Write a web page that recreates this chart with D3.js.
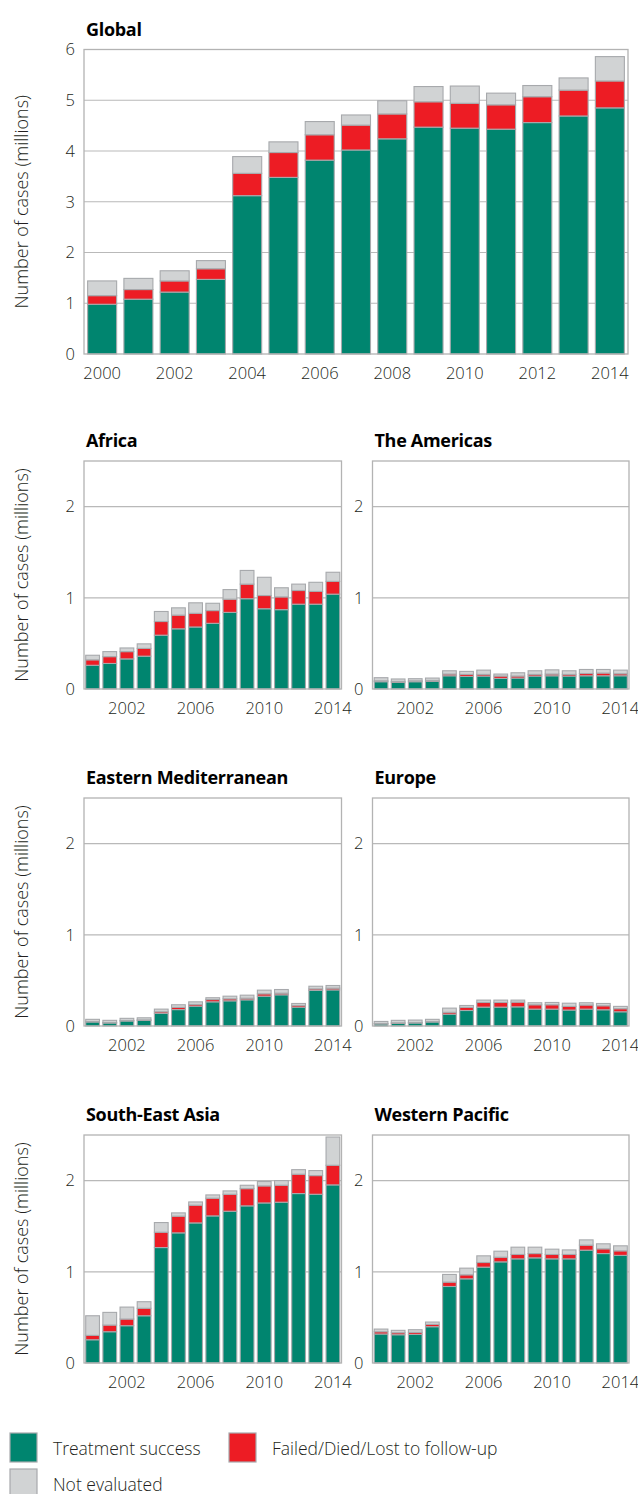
<!DOCTYPE html>
<html><head><meta charset="utf-8">
<script src="https://cdn.jsdelivr.net/npm/d3@7"></script>
<style>
body{margin:0;background:#fff;}
svg{display:block;font-family:"Open Sans",sans-serif;}
</style></head>
<body><svg id="chart" width="638" height="1494"></svg>
<script>
const years = [2000,2001,2002,2003,2004,2005,2006,2007,2008,2009,2010,2011,2012,2013,2014];
const seriesNames = ["Treatment success","Failed/Died/Lost to follow-up","Not evaluated"];
const seriesColors = ["#00856f","#ed1c24","#d1d3d4"];

const globalSuccess = [0.98,1.08,1.22,1.47,3.12,3.48,3.82,4.02,4.24,4.47,4.45,4.43,4.56,4.69,4.85];
const globalFailed  = [0.17,0.19,0.22,0.21,0.44,0.49,0.50,0.49,0.49,0.50,0.49,0.48,0.51,0.51,0.53];
const globalNotEval = [0.29,0.22,0.20,0.16,0.33,0.21,0.26,0.20,0.26,0.30,0.34,0.23,0.22,0.24,0.48];

const africaSuccess = [0.26,0.28,0.33,0.36,0.59,0.66,0.68,0.72,0.84,0.99,0.88,0.87,0.93,0.93,1.04];
const africaFailed  = [0.06,0.075,0.08,0.085,0.15,0.15,0.15,0.14,0.145,0.16,0.145,0.14,0.15,0.14,0.14];
const africaNotEval = [0.05,0.055,0.04,0.05,0.11,0.08,0.115,0.08,0.105,0.15,0.2,0.1,0.07,0.1,0.1];

const americasSuccess = [0.08,0.073,0.08,0.084,0.145,0.138,0.142,0.116,0.12,0.142,0.145,0.142,0.145,0.145,0.145];
const americasFailed  = [0.01,0.01,0.01,0.01,0.019,0.022,0.018,0.026,0.022,0.018,0.019,0.018,0.025,0.03,0.022];
const americasNotEval = [0.034,0.027,0.023,0.026,0.036,0.033,0.047,0.022,0.036,0.04,0.046,0.04,0.044,0.039,0.04];

const emedSuccess = [0.044,0.033,0.055,0.062,0.138,0.18,0.218,0.265,0.276,0.287,0.327,0.342,0.207,0.39,0.396];
const emedFailed  = [0.005,0.005,0.005,0.005,0.018,0.024,0.018,0.025,0.022,0.018,0.026,0.018,0.018,0.017,0.019];
const emedNotEval = [0.024,0.024,0.024,0.023,0.029,0.029,0.029,0.02,0.029,0.033,0.04,0.04,0.022,0.029,0.029];

const europeSuccess = [0.022,0.03,0.033,0.044,0.13,0.17,0.207,0.207,0.21,0.185,0.185,0.175,0.185,0.178,0.156];
const europeFailed  = [0.005,0.005,0.005,0.005,0.02,0.034,0.051,0.051,0.052,0.048,0.048,0.04,0.045,0.044,0.034];
const europeNotEval = [0.023,0.027,0.027,0.024,0.046,0.021,0.026,0.026,0.022,0.022,0.025,0.035,0.025,0.025,0.025];

const seaSuccess = [0.255,0.343,0.409,0.518,1.266,1.427,1.536,1.613,1.664,1.723,1.755,1.763,1.858,1.85,1.953];
const seaFailed  = [0.048,0.073,0.073,0.082,0.168,0.183,0.194,0.194,0.186,0.189,0.187,0.186,0.212,0.205,0.215];
const seaNotEval = [0.215,0.139,0.131,0.072,0.106,0.036,0.036,0.036,0.037,0.037,0.048,0.051,0.05,0.055,0.31];

const wpSuccess = [0.318,0.31,0.314,0.398,0.839,0.923,1.051,1.109,1.142,1.153,1.142,1.142,1.237,1.2,1.18];
const wpFailed  = [0.025,0.022,0.022,0.025,0.048,0.044,0.051,0.051,0.048,0.047,0.048,0.048,0.055,0.052,0.05];
const wpNotEval = [0.029,0.026,0.029,0.026,0.084,0.073,0.073,0.066,0.08,0.07,0.058,0.05,0.058,0.055,0.055];

const globalYTicks = [0,1,2,3,4,5,6];
const globalXTicks = [2000,2002,2004,2006,2008,2010,2012,2014];
const regionYTicks = [0,1,2];
const regionXTicks = [2002,2006,2010,2014];

const yTitle = "Number of cases (millions)";
const textColor = "#231f20";

const svg = d3.select("#chart");

function panel(cfg){
  const {title, success, failed, notEval, x0, x1, y0, y1, ymax, yTicks, xTicks} = cfg;
  const x = d3.scaleBand().domain(years).range([x0, x1]).paddingInner(0.2).paddingOuter(0.1);
  const y = d3.scaleLinear().domain([0, ymax]).range([y1, y0]);
  const g = svg.append("g");

  // gridlines
  g.append("g").selectAll("line").data(yTicks.filter(t => t > 0 && t < ymax)).join("line")
    .attr("x1", x0).attr("x2", x1).attr("y1", d => y(d)).attr("y2", d => y(d))
    .attr("stroke", "#b9b9b9").attr("stroke-width", 1.2);

  // stacked bars
  const rows = years.map((yr, i) => ({year: yr, s0: success[i], s1: failed[i], s2: notEval[i]}));
  const stack = d3.stack().keys(["s0","s1","s2"])(rows);
  stack.forEach((layer, li) => {
    g.append("g").selectAll("rect").data(layer).join("rect")
      .attr("x", d => x(d.data.year))
      .attr("width", x.bandwidth())
      .attr("y", d => y(d[1]))
      .attr("height", d => Math.max(0, y(d[0]) - y(d[1])))
      .attr("fill", seriesColors[li])
      .attr("stroke", "#a7a9ac").attr("stroke-width", 1.1);
  });

  // frame
  g.append("rect").attr("x", x0).attr("y", y0).attr("width", x1 - x0).attr("height", y1 - y0)
    .attr("fill", "none").attr("stroke", "#b3b3b3").attr("stroke-width", 1.3);

  // y axis labels
  const yAxis = d3.axisLeft(y).tickValues(yTicks).tickSize(0).tickPadding(9).tickFormat(d3.format("d"));
  const ya = g.append("g").attr("transform", `translate(${x0},0)`).call(yAxis);
  ya.select(".domain").remove();
  ya.selectAll("text").attr("font-size", 16.5).attr("fill", textColor).attr("font-family", "Open Sans").attr("font-weight", 300);

  // x axis labels
  const xAxis = d3.axisBottom(x).tickValues(xTicks).tickSize(0).tickPadding(13);
  const xa = g.append("g").attr("transform", `translate(0,${y1})`).call(xAxis);
  xa.select(".domain").remove();
  xa.selectAll("text").attr("font-size", 16.5).attr("fill", textColor).attr("font-family", "Open Sans").attr("font-weight", 300);

  // title
  g.append("text").attr("x", x0 + 2).attr("y", y0 - 14).text(title)
    .attr("font-size", 18).attr("font-weight", 700).attr("fill", "#000").attr("letter-spacing", -0.3);

  // y title (left column only)
  if (cfg.showYTitle) {
    g.append("text").attr("transform", `translate(28,${(y0 + y1) / 2}) rotate(-90)`)
      .attr("text-anchor", "middle").attr("font-size", 18).attr("fill", textColor).attr("font-weight", 300)
      .text(yTitle);
  }
}

panel({title:"Global", success:globalSuccess, failed:globalFailed, notEval:globalNotEval,
  x0:84, x1:628, y0:49.5, y1:354, ymax:6, yTicks:globalYTicks, xTicks:globalXTicks, showYTitle:true});

const colL = [84, 341.5], colR = [372.5, 629];
const rowTops = [461, 798, 1135];
const rowH = 228;
const regions = [
  {title:"Africa", success:africaSuccess, failed:africaFailed, notEval:africaNotEval, col:colL, row:0, showYTitle:true},
  {title:"The Americas", success:americasSuccess, failed:americasFailed, notEval:americasNotEval, col:colR, row:0},
  {title:"Eastern Mediterranean", success:emedSuccess, failed:emedFailed, notEval:emedNotEval, col:colL, row:1, showYTitle:true},
  {title:"Europe", success:europeSuccess, failed:europeFailed, notEval:europeNotEval, col:colR, row:1},
  {title:"South-East Asia", success:seaSuccess, failed:seaFailed, notEval:seaNotEval, col:colL, row:2, showYTitle:true},
  {title:"Western Pacific", success:wpSuccess, failed:wpFailed, notEval:wpNotEval, col:colR, row:2}
];
regions.forEach(r => panel({...r, x0:r.col[0], x1:r.col[1], y0:rowTops[r.row], y1:rowTops[r.row] + rowH,
  ymax:2.5, yTicks:regionYTicks, xTicks:regionXTicks}));

// legend
const legendItems = [
  {name: seriesNames[0], color: seriesColors[0], x: 10, y: 1433},
  {name: seriesNames[1], color: seriesColors[1], x: 229, y: 1433},
  {name: seriesNames[2], color: seriesColors[2], x: 10, y: 1469}
];
const lg = svg.append("g").selectAll("g").data(legendItems).join("g")
  .attr("transform", d => `translate(${d.x},${d.y})`);
lg.append("rect").attr("width", 27).attr("height", 29).attr("fill", d => d.color)
  .attr("stroke", "#a7a9ac").attr("stroke-width", 1.2);
lg.append("text").attr("x", 43).attr("y", 22).attr("font-size", 17.5).attr("fill", textColor).attr("font-weight", 300)
  .text(d => d.name);
</script></body></html>
